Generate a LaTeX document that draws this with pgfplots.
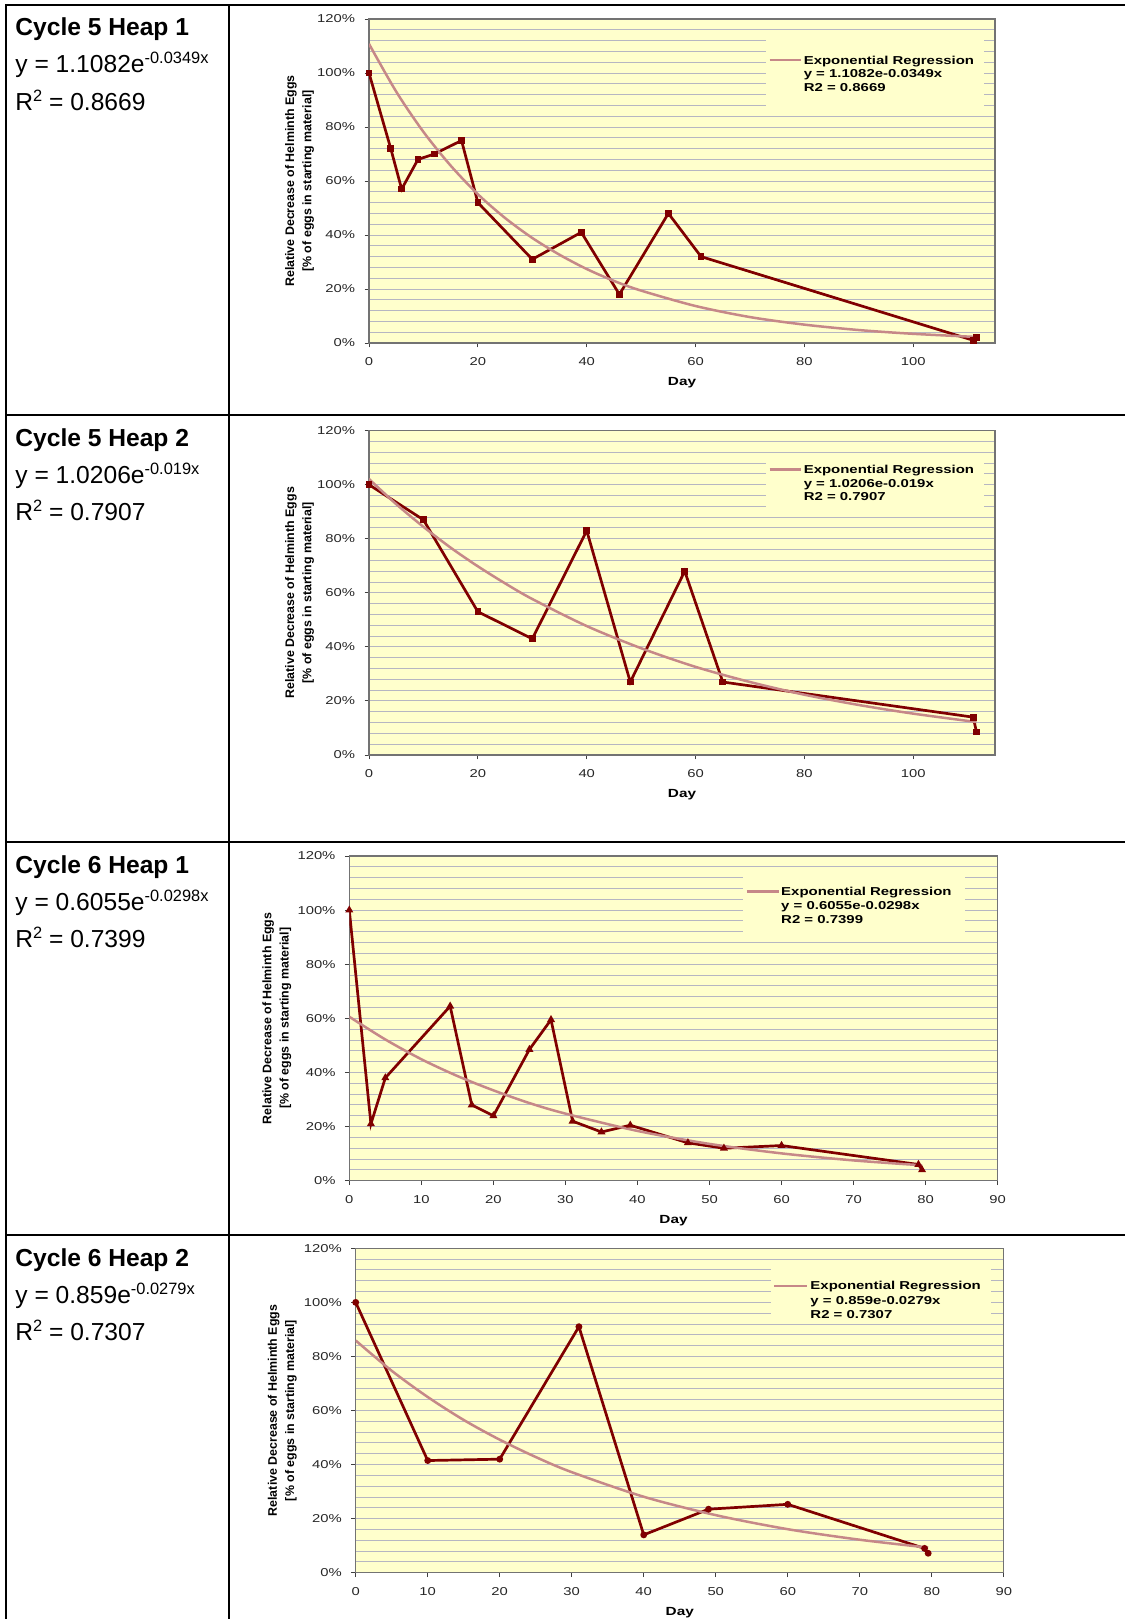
\documentclass[border=0pt]{standalone}
\usepackage{fontspec}
\setmainfont{Liberation Sans}
\newfontfamily\chartfont[FakeStretch=1.3]{Liberation Sans}
\usepackage{pgfplots}
\pgfplotsset{compat=1.18}
\definecolor{bgyellow}{RGB}{255,255,204}
\definecolor{gridgray}{RGB}{182,182,194}
\definecolor{datared}{RGB}{128,0,0}
\definecolor{trendpink}{RGB}{198,136,136}

\pgfplotsset{
  chart/.style={
    scale only axis,
    ymin=0, ymax=120,
    ytick={0,20,...,120},
    yticklabels={0\%,20\%,40\%,60\%,80\%,100\%,120\%},
    minor y tick num=4,
    ymajorgrids, yminorgrids,
    major grid style={gridgray, line width=0.5pt},
    minor grid style={gridgray, line width=0.5pt},
    axis background/.style={fill=bgyellow},
    tick align=outside,
    xtick pos=left, ytick pos=left,
    major tick length=2.2pt, minor tick length=0pt,
    tick style={black!75, line width=0.5pt},
    axis line style={black!55, line width=0.6pt},
    /pgf/number format/assume math mode=true,
    ticklabel style={font=\chartfont\fontsize{5.7}{6.5}\selectfont, text=black!85},
    yticklabel style={xshift=-1.2pt},
    xticklabel style={yshift=-1.5pt},
    xlabel={Day},
    xlabel style={at={(rel axis cs:0.5,0)}, anchor=center, yshift=-20pt, font=\chartfont\bfseries\fontsize{5.9}{7}\selectfont},
    ylabel={Relative Decrease of Helminth Eggs\\{}[\% of eggs in starting material]},
    ylabel style={anchor=south, align=center, font=\bfseries\fontsize{6.2}{8.6}\selectfont},
  },
  dataline/.style={datared, line width=1.35pt, mark size=1.0pt, mark options={solid, fill=datared}},
  trendline/.style={trendpink, line width=1.25pt, smooth, no marks},
}
\newcommand{\legfont}{\chartfont\bfseries\fontsize{5.75}{6.5}\selectfont}
\newcommand{\supx}[1]{{\fontsize{8.2}{9}\selectfont\raisebox{4.4pt}{#1}}}

\begin{document}
\begin{tikzpicture}
\path[use as bounding box] (0,0) rectangle (562.5pt,-809.5pt);

% ---------- table rules ----------
\draw[line width=1.1pt] (3pt,-809.5pt) -- (3pt,-2.5pt) -- (562.5pt,-2.5pt);
\draw[line width=1.1pt] (114.5pt,-2.5pt) -- (114.5pt,-809.5pt);
\draw[line width=1.1pt] (3pt,-207.5pt) -- (562.5pt,-207.5pt);
\draw[line width=1.1pt] (3pt,-421pt) -- (562.5pt,-421pt);
\draw[line width=1.1pt] (3pt,-617.5pt) -- (562.5pt,-617.5pt);

% ---------- left column texts ----------
\begin{scope}[every node/.style={anchor=base west, inner sep=0pt, font=\fontsize{12.3}{14}\selectfont}]
\node at (7.5pt,-17.5pt) {\textbf{Cycle 5 Heap 1}};
\node at (7.5pt,-36.3pt) {y = 1.1082e\supx{-0.0349x}};
\node at (7.5pt,-55pt) {R\supx{2} = 0.8669};
\node at (7.5pt,-223pt) {\textbf{Cycle 5 Heap 2}};
\node at (7.5pt,-241.5pt) {y = 1.0206e\supx{-0.019x}};
\node at (7.5pt,-260pt) {R\supx{2} = 0.7907};
\node at (7.5pt,-436.5pt) {\textbf{Cycle 6 Heap 1}};
\node at (7.5pt,-455pt) {y = 0.6055e\supx{-0.0298x}};
\node at (7.5pt,-473.5pt) {R\supx{2} = 0.7399};
\node at (7.5pt,-633pt) {\textbf{Cycle 6 Heap 2}};
\node at (7.5pt,-651.5pt) {y = 0.859e\supx{-0.0279x}};
\node at (7.5pt,-670pt) {R\supx{2} = 0.7307};
\end{scope}

% ---------- Chart 1 ----------
\begin{axis}[chart, at={(184.5pt,-171.5pt)}, anchor=south west, width=313pt, height=162pt,
  xmin=0, xmax=115, xtick={0,20,...,100}, xticklabels={0,20,40,60,80,100},
  ylabel style={at={([xshift=-24pt]rel axis cs:0,0.5)}}]
\fill[bgyellow] (axis cs:73,86) rectangle (axis cs:113,114);
\addplot[dataline, mark=square*] coordinates {(0,100)(4,72)(6,57)(9,68)(12,70)(17,75)(20,52)(30,31)(39,41)(46,18)(55,48)(61,32)(111,1)(111.6,2)};
\addplot[trendline] coordinates {(0,110.8)(5,93.1)(10,78.2)(15,65.7)(20,55.1)(25,46.3)(30,38.9)(35,32.7)(40,27.4)(45,23.0)(50,19.4)(60,13.7)(70,9.6)(80,6.8)(90,4.8)(100,3.4)(112,2.2)};
\draw[trendpink, line width=1.25pt] (axis cs:73.6,104.8) -- (axis cs:79.3,104.8);
\node[anchor=base west, inner sep=0pt, font=\legfont] at (axis cs:79.8,103.3) {Exponential Regression};
\node[anchor=base west, inner sep=0pt, font=\legfont] at (axis cs:79.8,98.4) {y = 1.1082e-0.0349x};
\node[anchor=base west, inner sep=0pt, font=\legfont] at (axis cs:79.8,93.2) {R2 = 0.8669};
\end{axis}

% ---------- Chart 2 ----------
\begin{axis}[chart, at={(184.5pt,-377.5pt)}, anchor=south west, width=313pt, height=162.2pt,
  xmin=0, xmax=115, xtick={0,20,...,100}, xticklabels={0,20,40,60,80,100},
  ylabel style={at={([xshift=-24pt]rel axis cs:0,0.5)}}]
\fill[bgyellow] (axis cs:73,90) rectangle (axis cs:113,110);
\addplot[dataline, mark=square*] coordinates {(0,100)(10,87)(20,53)(30,43)(40,83)(48,27)(58,68)(65,27)(111,14)(111.6,8.5)};
\addplot[trendline] coordinates {(0,102.1)(5,92.8)(10,84.4)(15,76.7)(20,69.8)(25,63.5)(30,57.7)(40,47.7)(50,39.5)(60,32.6)(70,27.0)(80,22.3)(90,18.5)(100,15.3)(111.6,12.2)};
\draw[trendpink, line width=1.25pt] (axis cs:73.6,105.7) -- (axis cs:79.3,105.7);
\node[anchor=base west, inner sep=0pt, font=\legfont] at (axis cs:79.8,104.2) {Exponential Regression};
\node[anchor=base west, inner sep=0pt, font=\legfont] at (axis cs:79.8,99.1) {y = 1.0206e-0.019x};
\node[anchor=base west, inner sep=0pt, font=\legfont] at (axis cs:79.8,94.1) {R2 = 0.7907};
\end{axis}

% ---------- Chart 3 ----------
\begin{axis}[chart, at={(174.65pt,-590.35pt)}, anchor=south west, width=324.2pt, height=162.35pt,
  xmin=0, xmax=90, xtick={0,10,...,90}, xticklabels={0,10,20,30,40,50,60,70,80,90},
  ylabel style={at={([xshift=-25.5pt]rel axis cs:0,0.5)}}]
\fill[bgyellow] (axis cs:54.7,90) rectangle (axis cs:85.5,114);
\addplot[dataline, mark=triangle*] coordinates {(0,100)(3,21)(5,38)(14,64.5)(17,28)(20,24)(25,48.5)(28,59.5)(31,22)(35,18)(39,20.5)(47,14)(52,12)(60,13)(79,6)(79.5,4)};
\addplot[trendline] coordinates {(0,60.6)(5,52.2)(10,44.9)(15,38.7)(20,33.4)(25,28.7)(30,24.8)(40,18.4)(50,13.6)(60,10.1)(70,7.5)(79.5,5.7)};
\draw[trendpink, line width=1.25pt] (axis cs:55.2,106.8) -- (axis cs:59.7,106.8);
\node[anchor=base west, inner sep=0pt, font=\legfont] at (axis cs:59.9,105.3) {Exponential Regression};
\node[anchor=base west, inner sep=0pt, font=\legfont] at (axis cs:59.9,100.1) {y = 0.6055e-0.0298x};
\node[anchor=base west, inner sep=0pt, font=\legfont] at (axis cs:59.9,95.2) {R2 = 0.7399};
\end{axis}

% ---------- Chart 4 ----------
\begin{axis}[chart, at={(177.85pt,-786.35pt)}, anchor=south west, width=324.05pt, height=162.2pt,
  xmin=0, xmax=90, xtick={0,10,...,90}, xticklabels={0,10,20,30,40,50,60,70,80,90},
  ylabel style={at={([xshift=-26pt]rel axis cs:0,0.5)}}]
\fill[bgyellow] (axis cs:57.7,92.5) rectangle (axis cs:88.2,113.8);
\addplot[dataline, mark=*] coordinates {(0,100)(10,41.5)(20,42)(31,91)(40,14)(49,23.5)(60,25.3)(79,9)(79.5,7.2)};
\addplot[trendline] coordinates {(0,85.9)(5,74.7)(10,65.0)(15,56.5)(20,49.2)(25,42.8)(30,37.2)(40,28.1)(50,21.3)(60,16.1)(70,12.2)(79.5,9.3)};
\draw[trendpink, line width=1.25pt] (axis cs:58.1,106.1) -- (axis cs:62.7,106.1);
\node[anchor=base west, inner sep=0pt, font=\legfont] at (axis cs:63.1,104.6) {Exponential Regression};
\node[anchor=base west, inner sep=0pt, font=\legfont] at (axis cs:63.1,99.3) {y = 0.859e-0.0279x};
\node[anchor=base west, inner sep=0pt, font=\legfont] at (axis cs:63.1,94.2) {R2 = 0.7307};
\end{axis}
\end{tikzpicture}
\end{document}
